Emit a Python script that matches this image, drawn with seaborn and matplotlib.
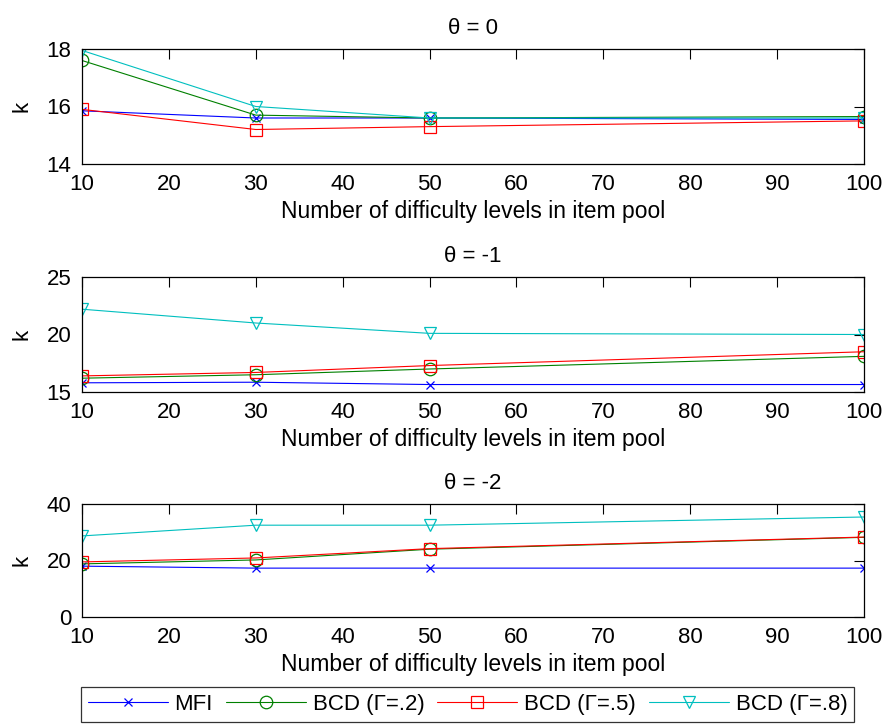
import matplotlib
matplotlib.use("Agg")
import matplotlib.pyplot as plt
import seaborn as sns
import pandas as pd

sns.set_style("white")
plt.rcParams['font.family'] = ['Liberation Sans', 'DejaVu Sans']
plt.rcParams['text.color'] = 'black'
plt.rcParams['axes.labelcolor'] = 'black'
plt.rcParams['axes.titlecolor'] = 'black'

levels = [10, 30, 50, 100]
series_names = ["MFI", "BCD (Γ=.2)", "BCD (Γ=.5)", "BCD (Γ=.8)"]

# theta = 0
t0_mfi = [15.85, 15.6, 15.6, 15.55]
t0_g2 = [17.6, 15.7, 15.6, 15.65]
t0_g5 = [15.9, 15.2, 15.3, 15.5]
t0_g8 = [17.95, 16.0, 15.6, 15.6]

# theta = -1
t1_mfi = [15.8, 15.85, 15.65, 15.65]
t1_g2 = [16.2, 16.5, 17.0, 18.1]
t1_g5 = [16.4, 16.7, 17.3, 18.5]
t1_g8 = [22.2, 21.0, 20.1, 20.0]

# theta = -2
t2_mfi = [18.0, 17.3, 17.3, 17.3]
t2_g2 = [18.8, 20.2, 24.0, 28.2]
t2_g5 = [19.5, 20.9, 24.2, 28.3]
t2_g8 = [28.7, 32.5, 32.5, 35.4]

titles = ["θ = 0", "θ = -1", "θ = -2"]
ylims = [(14, 18), (15, 25), (0, 40)]
yticks = [[14, 16, 18], [15, 20, 25], [0, 20, 40]]
xticks = [10, 20, 30, 40, 50, 60, 70, 80, 90, 100]
xlabel = "Number of difficulty levels in item pool"
ylabel = "k"

panels = [
    [t0_mfi, t0_g2, t0_g5, t0_g8],
    [t1_mfi, t1_g2, t1_g5, t1_g8],
    [t2_mfi, t2_g2, t2_g5, t2_g8],
]

colors = ["#0000ff", "#008000", "#ff0000", "#00bfbf"]
markers = ["x", "o", "s", "v"]
msizes = [6, 9, 9, 9]

fig = plt.figure(figsize=(8.86, 7.25), dpi=100)
left, width = 82 / 886, 782 / 886
tops = [49, 277, 504]
bottoms = [164, 392, 617]
H = 725
axes = []
for t, b in zip(tops, bottoms):
    ax = fig.add_axes([left, 1 - b / H, width, (b - t) / H])
    axes.append(ax)

fs = 16
for ax, data, title, yl, yt in zip(axes, panels, titles, ylims, yticks):
    for vals, name, c, m, ms in zip(data, series_names, colors, markers, msizes):
        df = pd.DataFrame({"x": levels, "y": vals})
        sns.lineplot(data=df, x="x", y="y", ax=ax, color=c, marker=m,
                     markersize=ms, mfc="none", mec=c, mew=0.9, lw=0.8,
                     label=name, legend=False)
    ax.set_xlim(10, 100)
    ax.set_ylim(*yl)
    ax.set_xticks(xticks)
    ax.set_yticks(yt)
    ax.set_title(title, fontsize=fs, pad=11, color="black")
    ax.set_xlabel(xlabel, fontsize=16.5, labelpad=3, color="black")
    ax.set_ylabel(ylabel, fontsize=fs, labelpad=10, color="black")
    ax.tick_params(direction="in", length=7, width=0.8, top=True, right=True,
                   labelsize=fs, pad=7.5, colors="black")
    for s in ax.spines.values():
        s.set_visible(True)
        s.set_color("black")
        s.set_linewidth(0.9)

handles, labels = axes[-1].get_legend_handles_labels()
leg = fig.legend(handles, labels, loc="center", ncol=4,
                 bbox_to_anchor=(81 / 886, 1 - 724 / H, 773 / 886, 39 / H),
                 mode="expand", frameon=True, fancybox=False, fontsize=fs,
                 handlelength=3.6, handletextpad=0.3, columnspacing=0.3,
                 borderpad=0.3, borderaxespad=0)
leg.get_frame().set_edgecolor("black")
leg.get_frame().set_linewidth(0.9)
for txt in leg.get_texts():
    txt.set_color("black")

fig.savefig("out.png", dpi=100)
